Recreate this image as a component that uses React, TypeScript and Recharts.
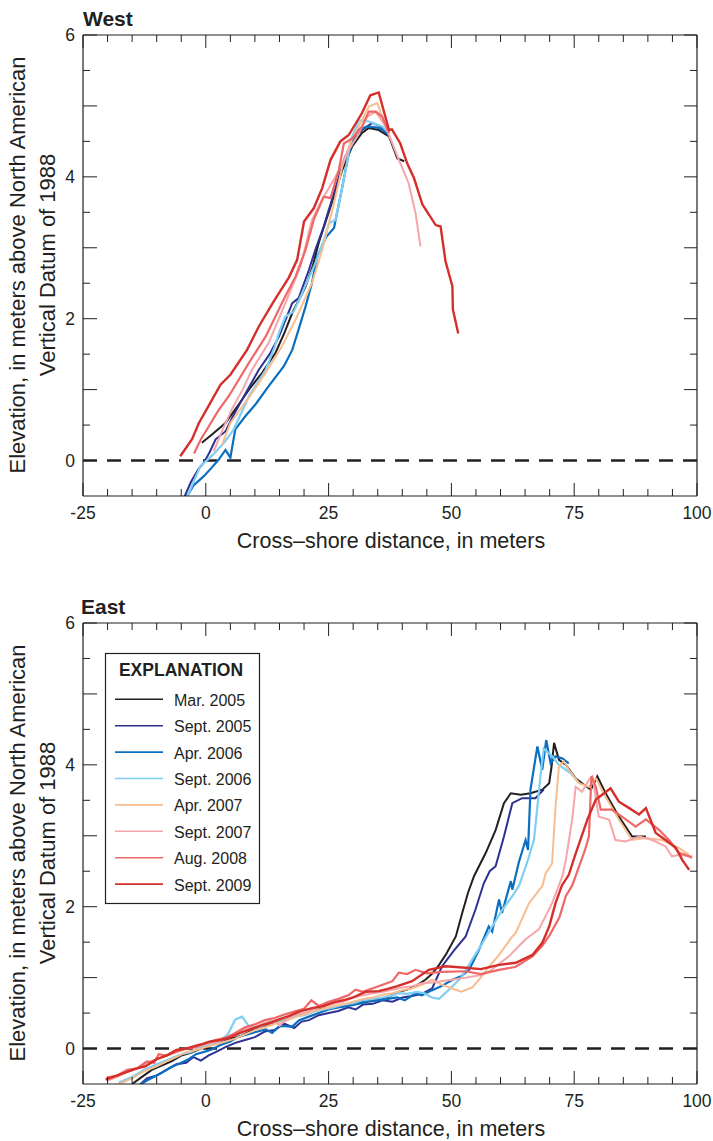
import React from "react";
import { LineChart, Line, XAxis, YAxis, ReferenceLine } from "recharts";

const FONT = '"Liberation Sans", Arial, sans-serif';
const INK = "#231f20";

// legend / series styling
const seriesNames = ["Mar. 2005", "Sept. 2005", "Apr. 2006", "Sept. 2006", "Apr. 2007", "Sept. 2007", "Aug. 2008", "Sept. 2009"];
const seriesColors = ["#231f20", "#2e3192", "#0b6fc0", "#7fcff5", "#f8bd8f", "#f6a5aa", "#ef6767", "#d52f2b"];
const seriesWidths = [2, 2, 2.2, 2.2, 2, 2, 2.2, 2.4];

// axis ticks
const xTicks = [-25, -20, -15, -10, -5, 0, 5, 10, 15, 20, 25, 30, 35, 40, 45, 50, 55, 60, 65, 70, 75, 80, 85, 90, 95, 100];
const xLabelTicks = [-25, 0, 25, 50, 75, 100];
const yTicks = [0, 0.5, 1, 1.5, 2, 2.5, 3, 3.5, 4, 4.5, 5, 5.5, 6];
const yLabelTicks = [0, 2, 4, 6];

// West profiles: [cross-shore distance (m), elevation (m)]
const westMar2005 = [[-0.8,0.25],[1.5,0.38],[4,0.53],[6.7,0.79],[9,1.02],[11.5,1.24],[14.2,1.52],[16,1.8],[17.6,2.08],[20.3,2.45],[21.8,2.75],[23,3.07],[25.4,3.58],[27.8,4.1],[29.8,4.43],[31.8,4.62],[33.2,4.69],[35.2,4.66],[37.3,4.57],[39,4.26],[40.4,4.22]];
const westSept2005 = [[-4.6,-0.55],[-3,-0.3],[-1.5,-0.12],[-0.4,-0.03],[0.8,0.12],[2,0.3],[4,0.41],[5.5,0.62],[7.4,0.86],[10.8,1.28],[13,1.5],[14.9,1.75],[17.6,2.22],[18.9,2.29],[21,2.69],[22.3,2.97],[24,3.3],[26,3.75],[28.1,4.24],[30.1,4.54],[31.8,4.66],[33.9,4.76],[35.6,4.71],[37.3,4.57]];
const westApr2006 = [[-4.2,-0.55],[-2.5,-0.35],[-0.4,-0.22],[1.2,-0.1],[2.6,0.01],[4,0.15],[5,0.04],[6,0.44],[8,0.62],[10.1,0.79],[12.8,1.05],[15.9,1.33],[17.6,1.56],[18.9,1.85],[20.3,2.17],[21.6,2.5],[22.7,2.88],[24.5,3.15],[26.1,3.28],[27.8,3.86],[29.1,4.33],[30.8,4.66],[32.9,4.71],[35.2,4.69],[36.9,4.62]];
const westSept2006 = [[-4,-0.55],[-2.5,-0.3],[-1.1,-0.08],[0.5,0.02],[2,0.12],[3.7,0.25],[5.7,0.44],[8.8,0.91],[12.2,1.28],[14,1.6],[14.9,1.8],[16.2,2.03],[17.9,2.1],[19.6,2.36],[22.3,2.78],[24,3.1],[25.1,3.35],[26.4,3.39],[28.5,4.1],[29.5,4.52],[31.2,4.8],[33.2,4.78],[35.9,4.71],[37.3,4.62]];
const westApr2007 = [[3.3,0.22],[5,0.53],[7,0.72],[9.4,0.95],[12.2,1.24],[15.5,1.61],[18.3,1.99],[21.6,2.5],[23.7,2.97],[26.1,3.63],[27.8,4.15],[29.8,4.54],[31.8,4.8],[33.2,4.99],[34.9,5.04],[35.9,4.85],[37.6,4.54]];
const westSept2007 = [[1.6,0.13],[3.5,0.45],[5.5,0.75],[7.5,1],[9.4,1.28],[12.8,1.66],[16.2,2.22],[19.3,2.74],[21.6,3.39],[23.7,3.68],[26.4,4],[29.1,4.38],[30.8,4.57],[32.9,4.85],[34.6,4.92],[36.6,4.71],[39.3,4.24],[41.3,3.91],[42.7,3.49],[43.7,3.02]];
const westAug2008 = [[-2.4,0.1],[-1,0.3],[0.6,0.48],[2.5,0.7],[4.7,0.91],[6.8,1.15],[8.8,1.38],[12.2,1.75],[15.5,2.22],[18.3,2.6],[20.3,2.97],[22,3.4],[24,3.72],[25.4,3.7],[27.1,4.1],[28.1,4.47],[29.8,4.54],[31.8,4.71],[33.2,4.92],[34.6,4.92],[35.9,4.85],[37.3,4.62]];
const westSept2009 = [[-5.2,0.06],[-2.8,0.3],[-1.4,0.53],[0.8,0.8],[3,1.07],[5,1.21],[8.4,1.56],[10.8,1.89],[13.8,2.24],[16.9,2.58],[18.6,2.83],[20,3.37],[22,3.56],[23.7,3.84],[25.4,4.24],[27.4,4.5],[29.1,4.59],[31.8,4.9],[33.5,5.15],[35.2,5.19],[37.3,4.66],[37.9,4.67],[39.6,4.47],[41,4.19],[42.4,3.98],[44.1,3.61],[46.8,3.32],[47.8,3.3],[48.8,2.81],[50.2,2.46],[50.3,2.13],[51.4,1.79]];

// East profiles
const eastMar2005 = [[-15,-0.5],[-13,-0.4],[-11,-0.3],[-9,-0.24],[-7,-0.18],[-5,-0.1],[-3,-0.06],[-1,0],[1,0.05],[3,0.08],[5,0.14],[7,0.17],[9,0.24],[11,0.3],[13,0.33],[15,0.38],[17,0.42],[19,0.47],[21,0.5],[23,0.55],[25,0.57],[27,0.6],[29,0.62],[31,0.65],[33,0.68],[35,0.7],[37,0.72],[39.3,0.8],[41,0.83],[42.7,0.88],[44.7,0.97],[46,1.05],[47.5,1.18],[49,1.34],[50.9,1.58],[52.2,1.91],[53.4,2.2],[54.6,2.43],[57,2.76],[59,3.08],[60.7,3.46],[62.1,3.6],[64.1,3.58],[66.1,3.6],[68.5,3.65],[69.9,3.74],[70.4,3.98],[70.9,4.31],[71.9,4.07],[73.3,4],[75.3,3.81],[77,3.72],[78.4,3.65],[79.7,3.84],[81.4,3.6],[84.1,3.27],[86.8,2.99],[89.6,2.99]];
const eastSept2005 = [[-13.6,-0.52],[-12,-0.42],[-10,-0.38],[-8,-0.3],[-6,-0.22],[-4,-0.2],[-2.5,-0.12],[-1,-0.17],[0.5,-0.1],[2,-0.05],[4,0.02],[6,0.08],[8,0.12],[10,0.16],[12,0.24],[14,0.26],[16,0.35],[18,0.29],[19.5,0.38],[21,0.4],[23,0.47],[25,0.5],[27,0.53],[29,0.58],[30.5,0.55],[32,0.62],[34,0.63],[36,0.68],[38,0.66],[40,0.72],[42,0.74],[44,0.77],[46.1,0.85],[48.1,1.16],[50.5,1.38],[52.9,1.58],[54.9,1.96],[56.6,2.33],[57.8,2.5],[59,2.57],[60.7,2.99],[62.4,3.46],[64.4,3.53],[67.1,3.53],[68.8,3.65]];
const eastApr2006 = [[-13.6,-0.52],[-12,-0.45],[-10,-0.38],[-8.9,-0.34],[-7,-0.26],[-5,-0.2],[-3.5,-0.15],[-2,-0.08],[0,-0.04],[1.3,-0.01],[3,0.05],[5,0.1],[6.7,0.17],[8.5,0.2],[10,0.23],[12.2,0.27],[13.5,0.22],[15,0.32],[17.6,0.31],[19,0.4],[21,0.45],[23,0.5],[25,0.55],[27,0.58],[29,0.6],[31,0.63],[33,0.66],[35,0.68],[37,0.7],[39,0.72],[40.5,0.68],[42.7,0.78],[44,0.75],[46,0.82],[48,0.88],[50.2,0.97],[52,1.02],[53.6,1.11],[55.6,1.39],[57.6,1.72],[58.3,1.65],[59.7,2.1],[60.3,1.91],[62.1,2.36],[62.4,2.24],[63.7,2.62],[65.1,2.94],[65.6,2.8],[66.1,3.65],[67.5,4.26],[68.5,3.93],[69.3,4.35],[70.2,4.02],[71.2,4.12],[72.6,4.09],[73.9,4.02]];
const eastSept2006 = [[-17.7,-0.48],[-15,-0.4],[-12.5,-0.3],[-10,-0.22],[-7.5,-0.15],[-5,-0.08],[-3,-0.05],[-1,0.02],[1,0.06],[3,0.12],[4.5,0.2],[6,0.41],[7.4,0.45],[8.8,0.31],[10.5,0.3],[12,0.33],[13,0.4],[14.5,0.36],[16,0.4],[18,0.45],[20,0.47],[22,0.52],[24,0.55],[26,0.58],[28,0.62],[30,0.64],[32,0.68],[34,0.7],[36,0.72],[38,0.75],[39.3,0.78],[41,0.77],[43,0.8],[44.5,0.78],[46,0.72],[47.5,0.7],[49.5,0.83],[52,1],[54.2,1.25],[56,1.45],[58.3,1.72],[60.3,1.95],[62.4,2.15],[63.8,2.3],[65.4,2.62],[66.8,2.94],[67.2,3.2],[67.5,3.41],[68.2,3.88],[68.8,4.23],[70.5,4.12],[71.9,4],[74.3,3.88],[76,3.74]];
const eastApr2007 = [[-17.7,-0.5],[-15,-0.42],[-12.5,-0.32],[-10,-0.25],[-8,-0.18],[-6,-0.12],[-4,-0.05],[-2,-0.02],[0,0.02],[2,0.06],[4,0.1],[6,0.14],[8,0.2],[10,0.26],[12,0.3],[14,0.35],[16,0.38],[18,0.44],[20,0.48],[22,0.53],[24,0.56],[26,0.6],[28,0.62],[30,0.66],[32,0.7],[34,0.72],[36,0.76],[38,0.78],[40,0.82],[42,0.85],[44,0.9],[46.1,0.97],[48,0.9],[50,0.85],[52,0.8],[54.2,0.86],[55.6,0.97],[57.6,1.15],[59.7,1.32],[62.4,1.58],[63.1,1.63],[65.8,2.05],[68.5,2.29],[69.2,2.47],[70.5,2.61],[71.2,3.41],[71.9,3.98],[72.9,4.05],[73.9,3.93],[76,3.74],[78,3.69],[79.4,3.81],[81.4,3.55],[84.1,3.23],[86.8,2.94],[89.6,2.97],[92.9,2.94],[96.3,2.83],[98.4,2.73]];
const eastSept2007 = [[-20,-0.45],[-18,-0.4],[-16,-0.33],[-14,-0.28],[-12,-0.2],[-10,-0.15],[-8,-0.1],[-6,-0.04],[-4,0],[-2,0.03],[0,0.06],[2,0.1],[4,0.15],[6,0.2],[8,0.28],[10,0.3],[12,0.36],[14,0.4],[15,0.32],[16.5,0.42],[18,0.48],[20,0.5],[22,0.56],[24,0.6],[26,0.63],[28,0.66],[30,0.72],[32,0.75],[34,0.78],[36,0.8],[38,0.83],[40,0.86],[42,0.88],[44,0.92],[46.1,0.93],[50,0.97],[53,1],[56.3,1.04],[58,1.1],[61.7,1.3],[63.1,1.4],[65.1,1.54],[67.8,1.68],[70.5,2.05],[72.6,2.43],[73.3,2.66],[74.6,3.23],[75.3,3.69],[76.6,3.62],[78,3.79],[78.7,3.84],[80,3.27],[82.1,3.23],[83.4,2.94],[85.5,2.92],[88.2,2.99],[90.9,2.94],[93.6,2.85],[94.9,2.71],[96.3,2.73],[99,2.71]];
const eastAug2008 = [[-20.2,-0.41],[-18,-0.38],[-16,-0.3],[-14,-0.28],[-12,-0.18],[-10.5,-0.2],[-9.6,-0.08],[-8,-0.1],[-6,-0.05],[-4,0],[-2,0.02],[0,0.08],[2,0.12],[4,0.15],[6,0.22],[8,0.3],[10,0.34],[12,0.4],[14,0.43],[16,0.48],[18,0.52],[20,0.56],[21.5,0.68],[23,0.6],[25,0.66],[27,0.7],[29,0.75],[30.5,0.83],[32,0.8],[34,0.85],[36,0.9],[38,0.95],[39.3,1.07],[41,1.05],[42.7,1.11],[45,1.06],[48,1.08],[52.9,1.09],[56,1.05],[59.7,1.11],[63,1.15],[66.5,1.3],[68.5,1.45],[70,1.6],[72,1.85],[73.3,2.15],[74.6,2.3],[76,2.57],[77.2,2.8],[78,2.99],[78.5,3.84],[79.4,3.69],[80.4,3.37],[82.7,3.37],[85.5,3.23],[87.5,3.13],[89.6,3.23],[92.3,3.08],[94.3,2.94],[96.3,2.76],[97.7,2.73],[99,2.69]];
const eastSept2009 = [[-20.4,-0.44],[-18,-0.38],[-16,-0.33],[-14,-0.28],[-12.3,-0.25],[-10,-0.15],[-8,-0.1],[-6,-0.02],[-4,0],[-2,0.04],[-0.4,0.07],[1,0.1],[3,0.12],[4.7,0.15],[7,0.22],[9,0.27],[11,0.32],[13,0.36],[14.9,0.41],[17,0.46],[19,0.52],[21.6,0.57],[24,0.6],[26,0.65],[28.5,0.69],[30,0.72],[32.5,0.8],[35.2,0.81],[37,0.84],[39,0.88],[42,0.95],[45.4,1.11],[48.8,1.16],[52.9,1.14],[56,1.12],[59.7,1.18],[63.1,1.21],[66.5,1.32],[68.5,1.49],[69.9,1.72],[71.2,2.05],[72.5,2.3],[73.9,2.45],[75.3,2.75],[77.7,3.23],[79.4,3.51],[81.1,3.6],[82.4,3.67],[84.1,3.48],[86.2,3.39],[88.2,3.3],[89.6,3.39],[91.6,3.04],[93.6,2.94],[95.7,2.83],[97,2.66],[98.4,2.52]];

const westSeries = [westMar2005, westSept2005, westApr2006, westSept2006, westApr2007, westSept2007, westAug2008, westSept2009];
const eastSeries = [eastMar2005, eastSept2005, eastApr2006, eastSept2006, eastApr2007, eastSept2007, eastAug2008, eastSept2009];

const toPoints = (arr: number[][]) => arr.map(([x, y]) => ({ x, y }));

const BottomTick = (props: any) => {
  const { x, y, payload } = props;
  const major = xLabelTicks.includes(payload.value);
  return (
    <g>
      <line x1={x} x2={x} y1={y} y2={y - (major ? 13 : 7)} stroke={INK} strokeWidth={1} />
      {major && (
        <text x={x} y={y + 23} textAnchor="middle" fontSize={17.5} fill={INK} fontFamily={FONT}>
          {payload.value}
        </text>
      )}
    </g>
  );
};

const TopTick = (props: any) => {
  const { x, y, payload } = props;
  const major = xLabelTicks.includes(payload.value);
  return <line x1={x} x2={x} y1={y} y2={y + (major ? 13 : 7)} stroke={INK} strokeWidth={1} />;
};

const LeftTick = (props: any) => {
  const { x, y, payload } = props;
  const major = Number.isInteger(payload.value);
  return (
    <g>
      <line x1={x} x2={x + (major ? 14 : 7)} y1={y} y2={y} stroke={INK} strokeWidth={1} />
      {yLabelTicks.includes(payload.value) && (
        <text x={x - 8} y={y + 6} textAnchor="end" fontSize={17.5} fill={INK} fontFamily={FONT}>
          {payload.value}
        </text>
      )}
    </g>
  );
};

const RightTick = (props: any) => {
  const { x, y, payload } = props;
  const major = Number.isInteger(payload.value);
  return <line x1={x} x2={x - (major ? 13 : 7)} y1={y} y2={y} stroke={INK} strokeWidth={1} />;
};

function ProfilePanel({ series, height, marginTop, axisHeight }: { series: number[][][]; height: number; marginTop: number; axisHeight: number }) {
  return (
    <LineChart width={713} height={height} margin={{ top: marginTop, right: 15, bottom: 0, left: 0 }}>
      <XAxis
        dataKey="x"
        type="number"
        domain={[-25, 100]}
        allowDataOverflow
        ticks={xTicks}
        interval={0}
        height={axisHeight}
        tickSize={0}
        tickMargin={0}
        tickLine={false}
        tick={<BottomTick />}
        axisLine={{ stroke: INK, strokeWidth: 1.2 }}
      />
      <XAxis
        xAxisId="top"
        orientation="top"
        dataKey="x"
        type="number"
        domain={[-25, 100]}
        allowDataOverflow
        ticks={xTicks}
        interval={0}
        height={1}
        tickSize={0}
        tickMargin={0}
        tickLine={false}
        tick={<TopTick />}
        axisLine={{ stroke: INK, strokeWidth: 1.2 }}
      />
      <YAxis
        type="number"
        domain={[-0.5, 6]}
        allowDataOverflow
        ticks={yTicks}
        interval={0}
        width={83}
        tickSize={0}
        tickMargin={0}
        tickLine={false}
        tick={<LeftTick />}
        axisLine={{ stroke: INK, strokeWidth: 1.2 }}
      />
      <YAxis
        yAxisId="right"
        orientation="right"
        type="number"
        domain={[-0.5, 6]}
        allowDataOverflow
        ticks={yTicks}
        interval={0}
        width={1}
        tickSize={0}
        tickMargin={0}
        tickLine={false}
        tick={<RightTick />}
        axisLine={{ stroke: INK, strokeWidth: 1.2 }}
      />
      <ReferenceLine y={0} stroke={INK} strokeWidth={2.5} strokeDasharray="14 10" />
      {series.map((s, i) => (
        <Line
          key={seriesNames[i]}
          data={toPoints(s)}
          dataKey="y"
          name={seriesNames[i]}
          type="linear"
          stroke={seriesColors[i]}
          strokeWidth={seriesWidths[i]}
          dot={false}
          activeDot={false}
          isAnimationActive={false}
        />
      ))}
    </LineChart>
  );
}

function YTitle({ cy }: { cy: number }) {
  return (
    <g fontFamily={FONT} fontSize={22} fill={INK} textAnchor="middle">
      <text x={25} y={cy} transform={`rotate(-90, 25, ${cy})`}>Elevation, in meters above North American</text>
      <text x={55} y={cy} transform={`rotate(-90, 55, ${cy})`}>Vertical Datum of 1988</text>
    </g>
  );
}

export default function App() {
  return (
    <div style={{ position: "absolute", left: 0, top: 0, width: 713, height: 1141, background: "#fff" }}>
      <div style={{ position: "absolute", left: 0, top: 0 }}>
        <ProfilePanel series={westSeries} height={580} marginTop={34} axisHeight={84} />
      </div>
      <div style={{ position: "absolute", left: 0, top: 580 }}>
        <ProfilePanel series={eastSeries} height={561} marginTop={42} axisHeight={57} />
      </div>
      <svg width={713} height={1141} style={{ position: "absolute", left: 0, top: 0, pointerEvents: "none" }}>
        <text x={83} y={26} fontFamily={FONT} fontWeight="bold" fontSize={21} fill={INK}>West</text>
        <text x={81} y={614} fontFamily={FONT} fontWeight="bold" fontSize={21} fill={INK}>East</text>
        <YTitle cy={265} />
        <YTitle cy={853} />
        <text x={391} y={548} textAnchor="middle" fontFamily={FONT} fontSize={21.5} fill={INK}>Cross–shore distance, in meters</text>
        <text x={391} y={1136} textAnchor="middle" fontFamily={FONT} fontSize={21.5} fill={INK}>Cross–shore distance, in meters</text>
        <g fontFamily={FONT} fill={INK}>
          <rect x={105.5} y={653.5} width={154} height={250} fill="#fff" stroke={INK} strokeWidth={1.2} />
          <text x={181} y={676} textAnchor="middle" fontWeight="bold" fontSize={17.5}>EXPLANATION</text>
          {seriesNames.map((name, i) => {
            const ly = 699.3 + i * 26.4;
            return (
              <g key={name}>
                <line x1={115} x2={163} y1={ly} y2={ly} stroke={seriesColors[i]} strokeWidth={1.6} />
                <text x={174} y={ly + 6.5} fontSize={16}>{name}</text>
              </g>
            );
          })}
        </g>
      </svg>
    </div>
  );
}
